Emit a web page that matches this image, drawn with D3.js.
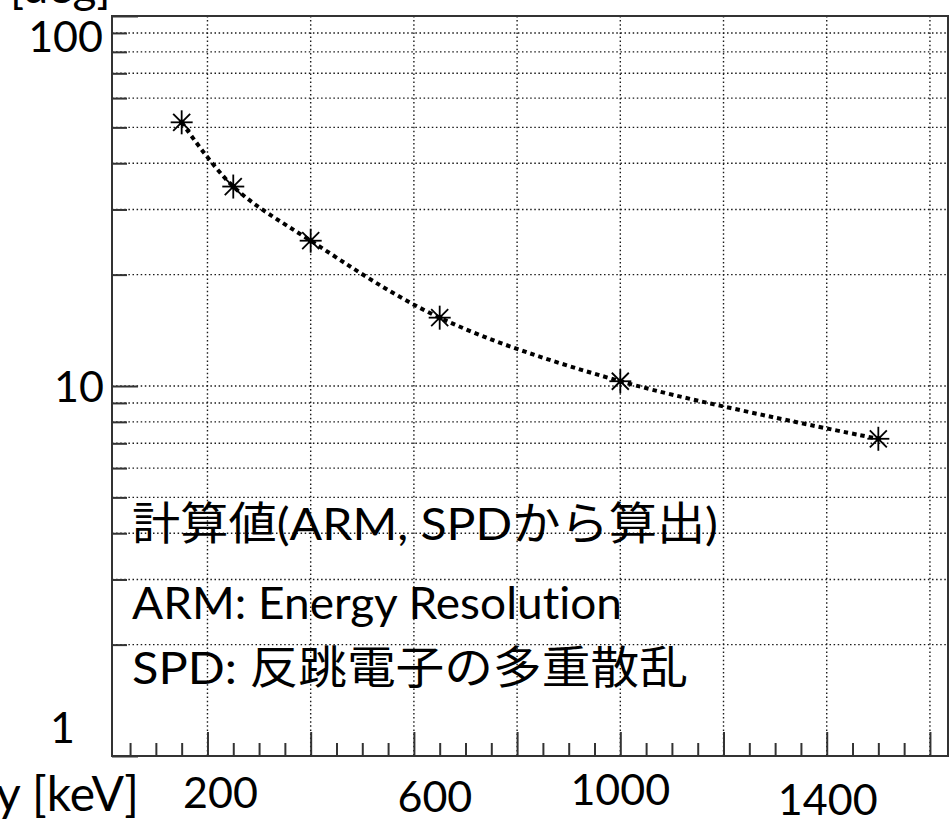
<!DOCTYPE html>
<html>
<head>
<meta charset="utf-8">
<script src="https://cdn.jsdelivr.net/npm/d3@7"></script>
<style>
  html, body { margin: 0; padding: 0; background: #fff; }
  svg { display: block; }
  text { font-family: Lato, "Noto Sans CJK JP", sans-serif; fill: #000; font-variant-ligatures: none; }
</style>
</head>
<body>
<svg id="chart" width="952" height="829"></svg>
<script>
// Gamma energy [keV] and angular resolution [deg]
const energies = [150, 250, 400, 650, 1000, 1500];
const resolution = [51.6, 34.6, 24.7, 15.3, 10.3, 7.2];

// Axis labels shown
const xTickLabels = [200, 600, 1000, 1400];
const yTickLabels = [1, 10, 100];
const xTitle = "Energy [keV]";
const yTitle = "[deg]";

// Annotation lines
const noteLines = [
  "計算値(ARM, SPDから算出)",
  "ARM: Energy Resolution",
  "SPD: 反跳電子の多重散乱"
];

// Layout
const frame = { left: 112, right: 948, top: 16, bottom: 756 };
const xLabelNudge = { 200: [13, 808], 600: [21, 812], 1000: [0, 805], 1400: [1, 815] };
const yLabelPos = { 1: [75, 743], 10: [104, 402], 100: [103, 52] };
const notePos = [[132, 540], [132, 619], [132, 684]];
const noteWidth = [586, 490, 556];

const svg = d3.select("#chart");

const x = d3.scaleLinear().domain([15, 1635]).range([frame.left, frame.right]);
const y = d3.scaleLog().domain([1, 100]).range([frame.bottom, frame.top]);

const xMajor = d3.range(200, 1601, 200);
const xMinor = d3.range(50, 1601, 50).filter(v => v % 200 !== 0 && x(v) > frame.left);
const yMajor = [1, 10, 100];
const yMinor = [];
[1, 10].forEach(d => { for (let k = 2; k <= 9; k++) yMinor.push(d * k); });

// dotted grid
const grid = svg.append("g")
  .attr("stroke", "#1a1a1a")
  .attr("stroke-width", 1.4)
  .attr("stroke-dasharray", "1.5,2.6");
grid.selectAll("line.v").data(xMajor).join("line").attr("class", "v")
  .attr("x1", d => x(d)).attr("x2", d => x(d))
  .attr("y1", frame.top).attr("y2", frame.bottom);
grid.selectAll("line.h").data(yMinor.concat([10])).join("line").attr("class", "h")
  .attr("x1", frame.left).attr("x2", frame.right)
  .attr("y1", d => y(d)).attr("y2", d => y(d));

// ticks drawn inward with d3 axes
function styleAxis(g) {
  g.select(".domain").remove();
  g.selectAll(".tick line").attr("stroke", "#333").attr("stroke-width", 2);
  g.selectAll(".tick text").remove();
}
svg.append("g").attr("transform", `translate(0,${frame.bottom})`)
  .call(d3.axisBottom(x).tickValues(xMajor).tickSize(-24).tickFormat(""))
  .call(styleAxis);
svg.append("g").attr("transform", `translate(0,${frame.bottom})`)
  .call(d3.axisBottom(x).tickValues(xMinor).tickSize(-13).tickFormat(""))
  .call(styleAxis);
svg.append("g").attr("transform", `translate(${frame.left},0)`)
  .call(d3.axisLeft(y).tickValues(yMajor).tickSize(-26).tickFormat(""))
  .call(styleAxis);
svg.append("g").attr("transform", `translate(${frame.left},0)`)
  .call(d3.axisLeft(y).tickValues(yMinor).tickSize(-15).tickFormat(""))
  .call(styleAxis);

// frame
svg.append("rect")
  .attr("x", frame.left).attr("y", frame.top)
  .attr("width", frame.right - frame.left).attr("height", frame.bottom - frame.top)
  .attr("fill", "none").attr("stroke", "#333").attr("stroke-width", 2);

// smooth dotted curve through the points
const pts = energies.map((e, i) => [e, resolution[i]]);
const line = d3.line()
  .x(d => x(d[0])).y(d => y(d[1]))
  .curve(d3.curveCatmullRom.alpha(0.5));
svg.append("path")
  .attr("d", line(pts))
  .attr("fill", "none").attr("stroke", "#000")
  .attr("stroke-width", 4).attr("stroke-dasharray", "4.5,4");

// asterisk markers
const mk = svg.append("g").attr("stroke", "#000").attr("stroke-width", 1.8);
pts.forEach(p => {
  const cx = x(p[0]), cy = y(p[1]);
  const g = mk.append("g").attr("transform", `translate(${cx},${cy})`);
  g.append("line").attr("x1", 0).attr("x2", 0).attr("y1", -12).attr("y2", 12);
  g.append("line").attr("x1", -11).attr("x2", 11).attr("y1", 0).attr("y2", 0);
  g.append("line").attr("x1", -8.5).attr("x2", 8.5).attr("y1", -8.5).attr("y2", 8.5);
  g.append("line").attr("x1", -8.5).attr("x2", 8.5).attr("y1", 8.5).attr("y2", -8.5);
  g.append("circle").attr("r", 2.8).attr("fill", "#000").attr("stroke", "none");
});

// tick labels
svg.selectAll("text.xl").data(xTickLabels).join("text").attr("class", "xl")
  .attr("x", d => x(d) + xLabelNudge[d][0]).attr("y", d => xLabelNudge[d][1])
  .attr("text-anchor", "middle").attr("font-size", 43)
  .text(d => d);
svg.selectAll("text.yl").data(yTickLabels).join("text").attr("class", "yl")
  .attr("x", d => yLabelPos[d][0]).attr("y", d => yLabelPos[d][1])
  .attr("text-anchor", "end").attr("font-size", 43)
  .text(d => d);

// axis titles
svg.append("text").attr("x", 139).attr("y", 811)
  .attr("text-anchor", "end").attr("font-size", 48).text(xTitle);
svg.append("text").attr("x", 10).attr("y", 3)
  .attr("font-size", 46).text(yTitle);

// annotation
svg.selectAll("text.note").data(noteLines).join("text").attr("class", "note")
  .attr("x", (d, i) => notePos[i][0]).attr("y", (d, i) => notePos[i][1])
  .attr("font-size", 45)
  .attr("textLength", (d, i) => noteWidth[i])
  .attr("lengthAdjust", "spacingAndGlyphs")
  .text(d => d);
</script>
</body>
</html>
